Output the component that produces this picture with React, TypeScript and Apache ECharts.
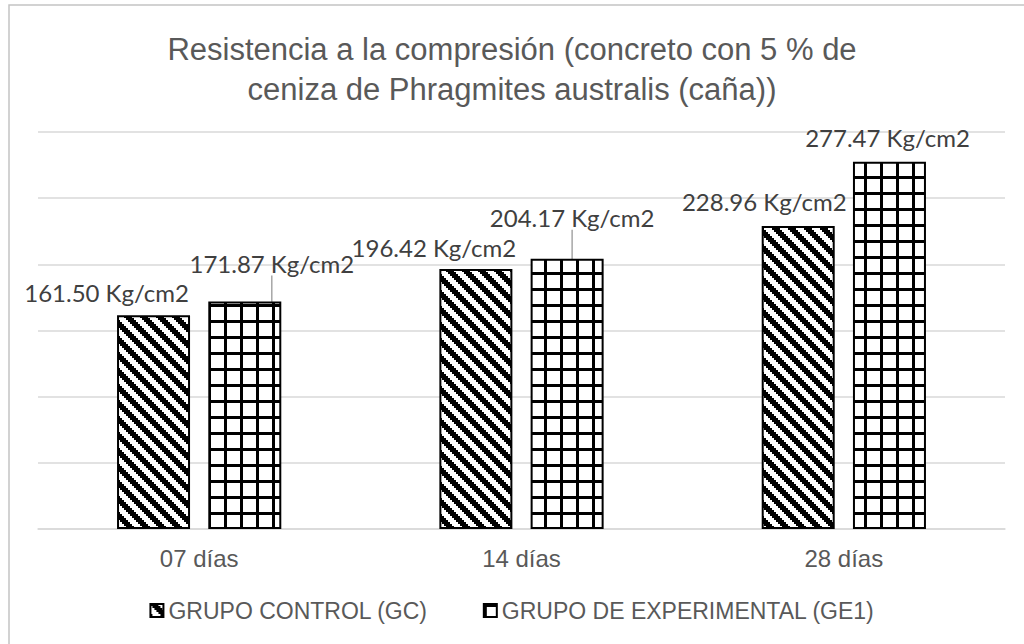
import React, { useEffect, useRef } from 'react';
import * as echarts from 'echarts';

const categories = ['07 días', '14 días', '28 días'];
const grupoControl = [161.5, 196.42, 228.96];
const grupoExperimental = [171.87, 204.17, 277.47];
const seriesNames = ['GRUPO CONTROL (GC)', 'GRUPO DE EXPERIMENTAL (GE1)'];
const titleLines = ['Resistencia a la compresión (concreto con 5 % de', 'ceniza de Phragmites australis (caña))'];
const unit = 'Kg/cm2';

// label nudges (dx, dy) relative to the default "top" position
const gcLabelShift = [[-47, -6], [-42, -5], [-34, -8]];
const geLabelShift = [[27, -21], [5, -24], [-2, -7]];
const geLeader = [true, true, false];

function makeHatch(): HTMLCanvasElement {
  const c = document.createElement('canvas');
  c.width = 16; c.height = 16;
  const ctx = c.getContext('2d')!;
  ctx.fillStyle = '#ffffff'; ctx.fillRect(0, 0, 16, 16);
  ctx.fillStyle = '#000000';
  for (let y = 0; y < 8; y++) {
    for (let k = 0; k < 4; k++) {
      const x = (y + k) % 8;
      ctx.fillRect(x * 2, y * 2, 2, 2);
    }
  }
  return c;
}

function makeGrid(): HTMLCanvasElement {
  const c = document.createElement('canvas');
  c.width = 16; c.height = 16;
  const ctx = c.getContext('2d')!;
  ctx.fillStyle = '#ffffff'; ctx.fillRect(0, 0, 16, 16);
  ctx.fillStyle = '#000000';
  ctx.fillRect(0, 0, 16, 3);
  ctx.fillRect(0, 0, 3, 16);
  return c;
}

export default function App() {
  const ref = useRef<HTMLDivElement>(null);
  useEffect(() => {
    if (!ref.current) return;
    const chart = echarts.init(ref.current, undefined, { renderer: 'svg' });
    const hatch = makeHatch();
    const grid = makeGrid();
    const labelFmt = (p: any) => `${Number(p.value).toFixed(2)} ${unit}`;
    const labelStyle = {
      show: true,
      position: 'top' as const,
      formatter: labelFmt,
      fontFamily: 'Lato',
      fontSize: 24,
      color: '#404040',
    };
    chart.setOption({
      animation: false,
      backgroundColor: '#ffffff',
      title: {
        text: titleLines.join('\n'),
        left: 'center',
        top: 24,
        textStyle: {
          fontFamily: 'Liberation Sans',
          fontSize: 31,
          fontWeight: 'normal',
          color: '#595959',
          lineHeight: 40,
        },
      },
      graphic: [
        {
          type: 'rect',
          silent: true,
          shape: { x: 9, y: 5, width: 1100, height: 700 },
          style: { fill: 'none', stroke: '#c4c4c4', lineWidth: 1.5 },
        },
      ],
      legend: {
        data: seriesNames,
        left: 'center',
        top: 594,
        itemWidth: 13,
        itemHeight: 13,
        itemGap: 55,
        icon: 'rect',
        textStyle: { fontFamily: 'Liberation Sans', fontSize: 23, color: '#595959' },
      },
      grid: { left: 38, right: 19, top: 132, bottom: 115, containLabel: false },
      xAxis: {
        type: 'category',
        data: categories,
        axisLine: { show: true, lineStyle: { color: '#d9d9d9', width: 1.5 } },
        axisTick: { show: false },
        axisLabel: { fontFamily: 'Liberation Sans', fontSize: 24, color: '#595959', margin: 17 },
      },
      yAxis: {
        type: 'value',
        min: 0,
        max: 300,
        interval: 50,
        axisLabel: { show: false },
        axisLine: { show: false },
        axisTick: { show: false },
        splitLine: { lineStyle: { color: '#d9d9d9', width: 1.5 } },
      },
      series: [
        {
          name: seriesNames[0],
          type: 'bar',
          barWidth: 73,
          barGap: '25%',
          data: grupoControl,
          itemStyle: {
            color: { image: hatch, repeat: 'repeat' },
            borderColor: '#000000',
            borderWidth: 2,
          },
          label: labelStyle,
          labelLayout: (p: any) => ({ dx: gcLabelShift[p.dataIndex][0], dy: gcLabelShift[p.dataIndex][1] }),
        },
        {
          name: seriesNames[1],
          type: 'bar',
          barWidth: 73,
          barGap: '25%',
          data: grupoExperimental.map((v, i) => ({
            value: v,
            labelLine: { show: geLeader[i] },
          })),
          itemStyle: {
            color: { image: grid, repeat: 'repeat' },
            borderColor: '#000000',
            borderWidth: 2,
          },
          label: labelStyle,
          labelLine: { show: true, lineStyle: { color: '#a6a6a6', width: 1.5 } },
          labelLayout: (p: any) => ({ dx: geLabelShift[p.dataIndex][0], dy: geLabelShift[p.dataIndex][1] }),
        },
      ],
    });
    return () => chart.dispose();
  }, []);
  return (
    <div
      ref={ref}
      style={{ position: 'fixed', left: 0, top: 0, width: 1024, height: 644, background: '#fff' }}
    />
  );
}
